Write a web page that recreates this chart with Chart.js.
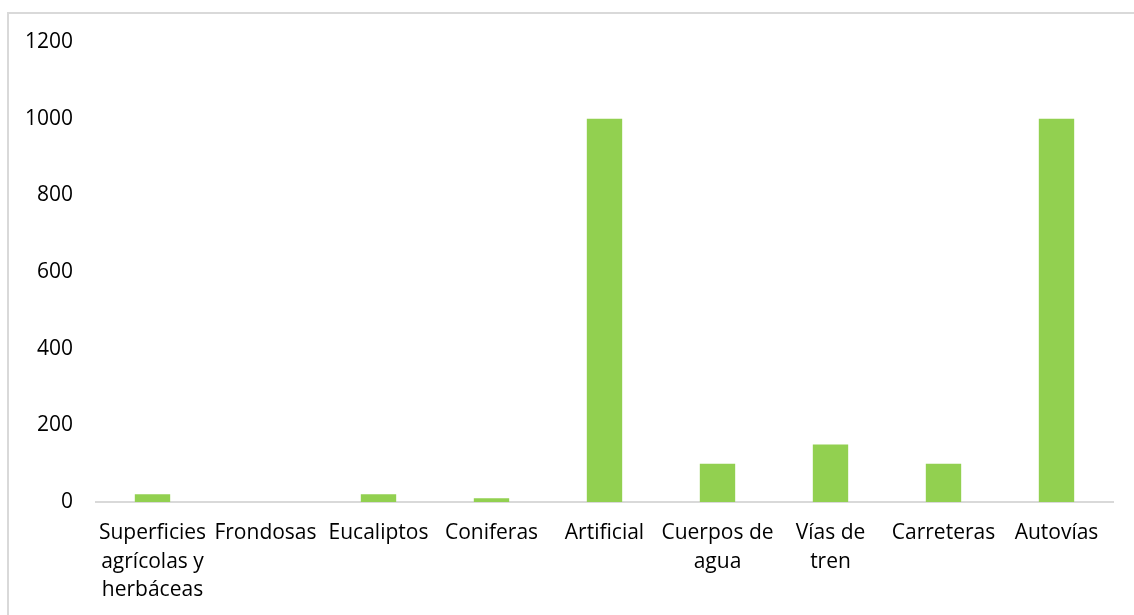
<!DOCTYPE html>
<html>
<head>
<meta charset="utf-8">
<script src="https://cdn.jsdelivr.net/npm/chart.js@4"></script>
<style>
  html, body { margin: 0; padding: 0; background: #fff; overflow: hidden; }
  #frame {
    position: absolute; left: 7px; top: 12px;
    width: 1200px; height: 700px;
    border: 2px solid #d9d9d9;
  }
  #wrap { position: absolute; left: 0; top: 0; width: 1134px; height: 615px; }
</style>
</head>
<body>
<div id="frame"></div>
<div id="wrap"><canvas id="chart"></canvas></div>
<script>
const categories = [
  ["Superficies", "agrícolas y", "herbáceas"],
  "Frondosas",
  "Eucaliptos",
  "Coniferas",
  "Artificial",
  ["Cuerpos de", "agua"],
  ["Vías de", "tren"],
  "Carreteras",
  "Autovías"
];
const values = [20, 0, 20, 10, 1000, 100, 150, 100, 1000];
const yTicks = [0, 200, 400, 600, 800, 1000, 1200];

const ctx = document.getElementById("chart");

new Chart(ctx, {
  type: "bar",
  data: {
    labels: categories,
    datasets: [{
      data: values,
      backgroundColor: "#92d050",
      categoryPercentage: 1,
      barPercentage: 0.313
    }]
  },
  options: {
    responsive: true,
    maintainAspectRatio: false,
    animation: false,
    layout: { padding: { top: 42, right: 21, left: 0, bottom: 0 } },
    plugins: { legend: { display: false }, tooltip: { enabled: false } },
    scales: {
      x: {
        grid: { display: false, drawTicks: false },
        border: { display: true, color: "#d9d9d9", width: 2 },
        ticks: {
          color: "#000",
          font: { family: "Open Sans", size: 21, lineHeight: 1.36 },
          padding: 17,
          maxRotation: 0,
          autoSkip: false
        },
        afterFit(axis) { axis.height = 113; }
      },
      y: {
        min: 0,
        max: 1200,
        grid: { display: false, drawTicks: false },
        border: { display: false },
        afterBuildTicks(axis) { axis.ticks = yTicks.map(v => ({ value: v })); },
        ticks: {
          color: "#000",
          font: { family: "Open Sans", size: 21 },
          padding: 23,
          callback: v => String(v)
        },
        afterFit(axis) { axis.width = 96; }
      }
    }
  }
});
</script>
</body>
</html>
